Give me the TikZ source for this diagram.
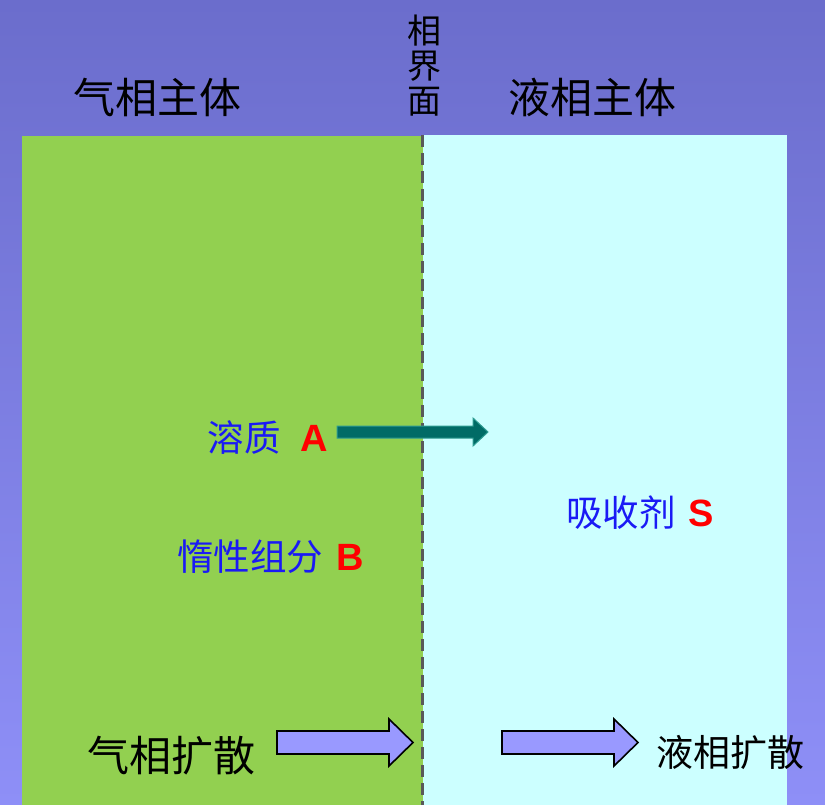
\documentclass[tikz,border=0pt]{standalone}
\usepackage{fontspec}
\newfontfamily\cjk{Noto Sans CJK SC}
\newfontfamily\latinb{Liberation Sans}
\definecolor{bgtop}{HTML}{6B6DCC}
\definecolor{bgbot}{HTML}{8E8FF7}
\definecolor{gasgreen}{HTML}{92D050}
\definecolor{liqcyan}{HTML}{CCFFFF}
\definecolor{txtblue}{HTML}{1A1AF5}
\definecolor{teal}{HTML}{006B66}
\definecolor{tealedge}{HTML}{2E9C92}
\definecolor{arrowpurple}{HTML}{9999FF}
\begin{document}
\begin{tikzpicture}[x=1pt,y=-1pt,
  lab/.style={inner sep=0pt,font=\cjk\fontsize{42}{46}\selectfont},
  blue/.style={inner sep=0pt,text=txtblue,font=\cjk\fontsize{36.5}{40}\selectfont},
  redl/.style={inner sep=0pt,text=red,font=\latinb\bfseries\fontsize{38}{40}\selectfont},
  blockarrow/.style={draw=black,line width=1.6pt,fill=arrowpurple,line join=miter}]
\shade[top color=bgtop,bottom color=bgbot] (0,0) rectangle (825,805);
\useasboundingbox (0,0) rectangle (825,805);
\fill[gasgreen] (22,136) rectangle (423,805);
\fill[liqcyan] (423,135) rectangle (787,805);
\draw[color=black!65,line width=3pt,dash pattern=on 12pt off 6pt] (422,135) -- (422,805);
% labels
\node[lab] (gasbulk) at (157,97) {气相主体};
\node[lab] (liqbulk) at (592,97) {液相主体};
\node[inner sep=0pt,align=center,font=\cjk\fontsize{34}{35}\selectfont] (iface) at (424,66) {相\\界\\面};
% solute
\node[blue,anchor=east] (solute) at (281,438) {溶质};
\node[redl,anchor=west] (solA) at (300,438) {A};
\node[blue,anchor=west] (inert) at (177,557) {惰性组分};
\node[redl,anchor=west] (inB) at (336,557) {B};
\node[blue,anchor=west] (absorb) at (566,513) {吸收剂};
\node[redl,anchor=west] (absS) at (688,513) {S};
\node[lab,anchor=west] (gasdiff) at (87,756) {气相扩散};
\node[inner sep=0pt,anchor=west,font=\cjk\fontsize{37}{40}\selectfont] (liqdiff) at (656,752) {液相扩散};
% teal arrow
\draw[fill=teal,draw=tealedge,line width=1pt]
  (337,426) -- (473,426) -- (473,418) -- (488,432) -- (473,446) -- (473,438) -- (337,438) -- cycle;
% block arrows
\draw[blockarrow] (277,731) -- (389,731) -- (389,719) -- (413,742.5) -- (389,766) -- (389,754) -- (277,754) -- cycle;
\draw[blockarrow] (502,731) -- (614,731) -- (614,719) -- (638,742.5) -- (614,766) -- (614,754) -- (502,754) -- cycle;
\end{tikzpicture}
\end{document}
